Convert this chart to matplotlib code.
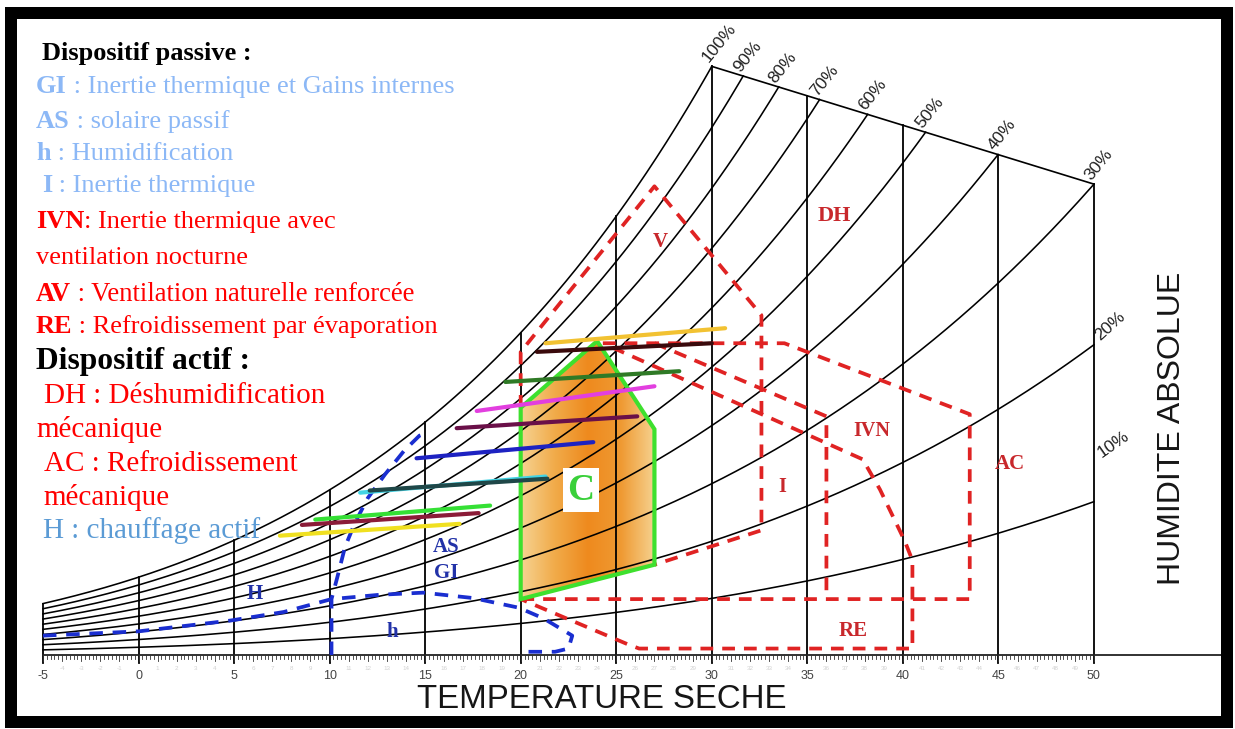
import numpy as np
import matplotlib
matplotlib.use("Agg")
import matplotlib.pyplot as plt
import matplotlib.transforms as mtransforms
from matplotlib.patches import Polygon, Rectangle
from matplotlib.colors import LinearSegmentedColormap

W_PX, H_PX = 1235, 729

# ---------------------------------------------------------------- data
# dry-bulb isotherms (°C) and relative-humidity curves (%)
isotherms = list(range(-5, 55, 5))
tick_labels = [str(t) for t in isotherms]
ruler_degrees = [t for t in range(-4, 50) if t % 5 != 0]
rh_levels = [10, 20, 30, 40, 50, 60, 70, 80, 90, 100]
rh_labels = [f"{r}%" for r in rh_levels]

# comfort zone C  (temperature °C, absolute humidity g/kg)
comfort_t = [20.0, 20.0, 24.0, 27.0, 27.0]
comfort_w = [2.6, 11.5, 14.6, 10.5, 4.2]

# cooling strategy outlines (red)
zone_v_t = [20.0, 20.0, 27.0, 32.6, 32.6, 27.0]
zone_v_w = [11.5, 14.1, 21.8, 15.8, 5.8, 4.2]
zone_ac_t = [24.3, 33.8, 43.5, 43.5, 20.0]
zone_ac_w = [14.5, 14.5, 11.2, 2.6, 2.6]
zone_ivn_t = [27.0, 36.0, 36.0]
zone_ivn_w = [14.5, 11.1, 2.6]
zone_re_t = [24.8, 37.9, 38.8, 40.1, 40.5, 40.5, 26.2, 25.6, 20.0]
zone_re_w = [14.3, 9.1, 7.7, 5.3, 4.4, 0.3, 0.3, 0.5, 2.6]

# heating strategy outlines (blue)
zone_h_t = [-5.0, 0.0, 4.8, 7.6, 10.1, 12.6, 14.9, 17.5, 19.9, 21.2, 22.7, 22.5, 21.8, 20.0]
zone_h_w = [0.9, 1.1, 1.6, 2.0, 2.6, 2.8, 2.9, 2.65, 2.2, 1.7, 0.9, 0.3, 0.15, 0.15]
zone_as_t = [10.1, 10.1, 10.4, 10.8, 11.3, 12.0, 12.9, 13.9, 14.7, 15.0]
zone_as_w = [0.0, 2.6, 3.6, 5.0, 6.1, 7.3, 8.4, 9.5, 10.2, 10.3]

# zone labels
red_names = ["V", "DH", "IVN", "I", "AC", "RE"]
red_label_t = [27.3, 36.4, 38.4, 33.7, 45.6, 37.4]
red_label_w = [19.2, 20.4, 10.4, 7.8, 8.9, 1.1]
red_label_size = [15, 16, 14.5, 14.5, 15, 15]
blue_names = ["AS", "GI", "H", "h"]
blue_label_t = [16.1, 16.1, 6.1, 13.3]
blue_label_w = [5.0, 3.8, 2.85, 1.05]

# monthly climate lines: (T min, w) -> (T max, w)
month_tmin = [21.3, 20.85, 19.2, 17.7, 16.65, 14.55, 11.6, 12.1, 9.25, 8.55, 7.4]
month_tmax = [30.7, 30.0, 28.3, 27.0, 26.1, 23.8, 21.3, 21.4, 18.4, 17.8, 16.8]
month_wmin = [14.5, 14.1, 12.7, 11.35, 10.55, 9.15, 7.55, 7.65, 6.3, 6.05, 5.55]
month_wmax = [15.2, 14.5, 13.2, 12.5, 11.1, 9.9, 8.3, 8.2, 6.95, 6.6, 6.1]
month_colors = ["#f2c232", "#3a0a0c", "#2f7a26", "#e23fdf", "#6a1048", "#1d22c2",
                "#43d3e4", "#1f4748", "#35e035", "#8b1b38", "#f0e020"]

# legend
legend_rows = [
    # x px, baseline px, bold part, regular part, colour, size
    (42, 60, "Dispositif passive :", "", "black", 19),
    (36, 93, "GI", " : Inertie thermique et Gains internes", "#8cb8f6", 19),
    (36, 128, "AS", " : solaire passif", "#8cb8f6", 19),
    (36, 160, "h", " : Humidification", "#8cb8f6", 19),
    (42, 192, "I", " : Inertie thermique", "#8cb8f6", 19),
    (36, 228, "IVN", ": Inertie thermique avec", "#ff0000", 19),
    (36, 264, "", "ventilation nocturne", "#ff0000", 19),
    (36, 301, "AV", " : Ventilation naturelle renforcée", "#ff0000", 19.2),
    (36, 333, "RE", " : Refroidissement par évaporation", "#ff0000", 19),
    (36, 369, "Dispositif actif :", "", "black", 22.7),
    (44, 403, "", "DH : Déshumidification", "#ff0000", 21),
    (36, 437, "", "mécanique", "#ff0000", 21),
    (44, 471, "", "AC : Refroidissement", "#ff0000", 21),
    (43, 505, "", "mécanique", "#ff0000", 21),
    (43, 538, "", "H : chauffage actif", "#5b9bd5", 21),
]

# ---------------------------------------------------------------- helpers
P_ATM = 101.325
# Magnus-type saturation curve used by this chart (kPa)
SAT_A, SAT_B, SAT_C = 0.586, 11.76, 147.6


def p_sat(t):
    return SAT_A * np.exp(SAT_B * t / (t + SAT_C))


def abs_humidity(t, rh):
    pv = rh / 100.0 * p_sat(t)
    return 622.0 * pv / (P_ATM - pv)


W_TOP_A = abs_humidity(30.0, 100)
W_TOP_B = abs_humidity(50.0, 30)


def top_edge(t):
    return W_TOP_A + (W_TOP_B - W_TOP_A) * (np.asarray(t) - 30.0) / 20.0


def curve_end(rh):
    if rh >= 100:
        return 30.0
    tt = np.linspace(30.0, 50.0, 4001)
    idx = np.nonzero(abs_humidity(tt, rh) - top_edge(tt) >= -1e-9)[0]
    return tt[idx[0]] if len(idx) else 50.0


# pixel anchors of the chart scales
X0, SX = 138.5, 19.109      # px of 0 °C, px per °C
Y0, SY = 655.0, 21.5        # px of 0 g/kg, px per g/kg


def t_of_px(x):
    return (x - X0) / SX


def w_of_px(y):
    return (Y0 - y) / SY


# ---------------------------------------------------------------- figure
fig = plt.figure(figsize=(W_PX / 100, H_PX / 100), dpi=100, facecolor="white")
ax = fig.add_axes([0, 0, 1, 1])
ax.set_axis_off()
px = mtransforms.Affine2D().scale(1 / W_PX, -1 / H_PX).translate(0, 1) + fig.transFigure

# comfort zone with orange gradient
comfort_patch = Polygon(np.column_stack([comfort_t, comfort_w]), closed=True,
                        facecolor="none", edgecolor="#3ee02e", linewidth=3.0, zorder=4,
                        joinstyle="miter")
ax.add_patch(comfort_patch)
grad_cmap = LinearSegmentedColormap.from_list(
    "comfort", ["#f6d392", "#f1ab4a", "#ee8a1e", "#ef9a33", "#f6d290"])
grad = np.linspace(0, 1, 256)[None, :]
im = ax.imshow(grad, extent=[min(comfort_t), max(comfort_t), min(comfort_w), max(comfort_w)],
               origin="lower", aspect="auto", cmap=grad_cmap, zorder=1, interpolation="bilinear")
im.set_clip_path(comfort_patch)

# grid: relative humidity curves
for rh, lab in zip(rh_levels, rh_labels):
    t_end = curve_end(rh)
    tt = np.linspace(-5.0, t_end, 400)
    ax.plot(tt, abs_humidity(tt, rh), color="black", lw=1.15, zorder=2)
    w_end = abs_humidity(t_end, rh)
    if rh == 10:
        rot, off = 35, (8, 44)
    elif rh == 20:
        rot, off = 42, (6, 4)
    else:
        rot, off = 51, (-3, 3)
    ax.annotate(lab, (t_end, w_end), xytext=off, textcoords="offset pixels",
                rotation=rot, rotation_mode="anchor", ha="left", va="baseline",
                fontsize=12.5, family="Liberation Sans", color="#222222", zorder=6)

# grid: isotherms, upper edge, baseline and ruler
tick_len = 8 / SY
for t in isotherms:
    top = abs_humidity(t, 100) if t <= 30 else float(top_edge(t))
    ax.plot([t, t], [-tick_len, top], color="black", lw=1.3, zorder=2)
ax.plot([30, 50], [W_TOP_A, W_TOP_B], color="black", lw=1.2, zorder=2)
ax.plot([-5, t_of_px(1222)], [0, 0], color="#222222", lw=1.3, zorder=2)
minor = np.arange(-5, 50.001, 0.2)
for t in minor:
    ln = 6 / SY if abs(t - round(t)) < 1e-6 else 3.5 / SY
    ax.plot([t, t], [0, -ln], color="#333333", lw=0.6, zorder=2)
for t, lab in zip(isotherms, tick_labels):
    ax.text(t, w_of_px(676), lab, ha="center", va="center", fontsize=9,
            family="Liberation Sans", color="#444444")
for t in ruler_degrees:
    ax.text(t, w_of_px(668), str(t), ha="center", va="center", fontsize=4.5,
            family="Liberation Sans", color="#d2d2d2")

# strategy outlines
red_kw = dict(color="#e02323", lw=2.7, linestyle=(0, (3.4, 2.4)), zorder=3,
              solid_joinstyle="miter", dash_capstyle="butt")
for zt, zw in [(zone_v_t, zone_v_w), (zone_ac_t, zone_ac_w),
               (zone_ivn_t, zone_ivn_w), (zone_re_t, zone_re_w)]:
    ax.plot(zt, zw, **red_kw)
blue_kw = dict(color="#1a2ed0", lw=2.7, linestyle=(0, (3.6, 2.6)), zorder=3,
               dash_capstyle="butt")
for zt, zw in [(zone_h_t, zone_h_w), (zone_as_t, zone_as_w)]:
    ax.plot(zt, zw, **blue_kw)

# monthly lines
for t0, t1, w0, w1, c in zip(month_tmin, month_tmax, month_wmin, month_wmax, month_colors):
    ax.plot([t0, t1], [w0, w1], color=c, lw=3.0, solid_capstyle="round", zorder=5)

# zone labels
for name, t, w, s in zip(red_names, red_label_t, red_label_w, red_label_size):
    ax.text(t, w, name, ha="center", va="center", fontsize=s, fontweight="bold",
            family="Liberation Serif", color="#c8282c", zorder=6)
for name, t, w in zip(blue_names, blue_label_t, blue_label_w):
    ax.text(t, w, name, ha="center", va="center", fontsize=15, fontweight="bold",
            family="Liberation Serif", color="#2232a8", zorder=6)
ax.text(23.15, 7.67, "C", ha="center", va="center", fontsize=27, fontweight="bold",
        family="Liberation Serif", color="#3ad03a", zorder=7,
        bbox=dict(facecolor="white", edgecolor="none", pad=3))

# axis titles
ax.text(602, 700, "TEMPERATURE SECHE", transform=px, ha="center", va="center",
        fontsize=23.8, family="Liberation Sans", color="#161616")
ax.text(1172, 428, "HUMIDITE ABSOLUE", transform=px, ha="center", va="center",
        rotation=90, fontsize=23, family="Liberation Sans", color="#161616")

# legend block
for x, y, bold, rest, col, size in legend_rows:
    if bold:
        head = ax.text(x, y, bold, transform=px, ha="left", va="baseline",
                       fontsize=size, fontweight="bold", family="Liberation Serif",
                       color=col)
        if rest:
            ax.annotate(rest, xy=(1, 0), xycoords=head, ha="left", va="bottom",
                        fontsize=size, family="Liberation Serif", color=col)
    else:
        ax.text(x, y, rest, transform=px, ha="left", va="baseline",
                fontsize=size, family="Liberation Serif", color=col)

# frame
fig.add_artist(Rectangle((11, 13), 1216, 709, transform=px, fill=False,
                         edgecolor="black", linewidth=12 * 0.72))

ax.set_xlim(t_of_px(0), t_of_px(W_PX))
ax.set_ylim(w_of_px(H_PX), w_of_px(0))

fig.savefig("out.png", dpi=100, facecolor="white")
